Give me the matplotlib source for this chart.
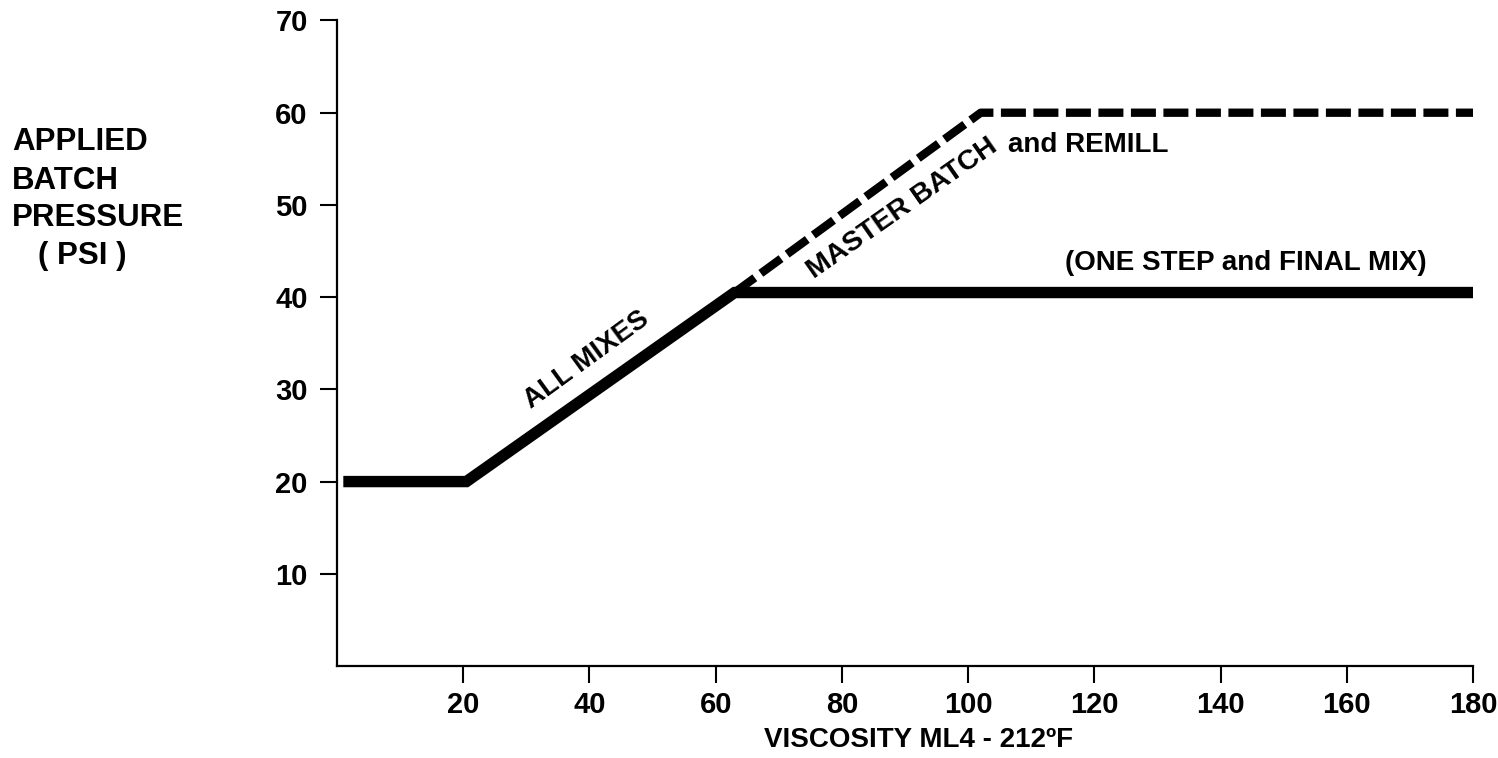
import matplotlib
matplotlib.use("Agg")
import matplotlib.pyplot as plt

# Viscosity (ML4 at 212 F) vs applied ram pressure
all_mixes_x = [1, 20.5, 63, 180]
all_mixes_y = [20, 20, 40.5, 40.5]
master_x = [63, 102, 180]
master_y = [40.5, 60, 60]

x_ticks = [20, 40, 60, 80, 100, 120, 140, 160, 180]
y_ticks = [10, 20, 30, 40, 50, 60, 70]

bold_font = ["Liberation Sans", "DejaVu Sans"]

fig = plt.figure(figsize=(14.98, 7.58), dpi=100)
ax = fig.add_axes([337 / 1498, 1 - 666 / 758, (1473 - 337) / 1498, (666 - 20.5) / 758])

ax.plot(all_mixes_x, all_mixes_y, color="black", lw=8.2,
        solid_capstyle="butt", solid_joinstyle="miter", zorder=3)
ax.plot(master_x, master_y, color="black", lw=6.0, dashes=(3.0, 0.9),
        dash_capstyle="butt", zorder=2)

ax.set_xlim(0, 180)
ax.set_ylim(0, 70)
ax.set_xticks(x_ticks)
ax.set_yticks(y_ticks)
ax.set_xticklabels([str(v) for v in x_ticks])
ax.set_yticklabels([str(v) for v in y_ticks])

for side in ("top", "right"):
    ax.spines[side].set_visible(False)
for side in ("left", "bottom"):
    ax.spines[side].set_linewidth(1.6)

ax.tick_params(axis="both", direction="out", length=12, width=1.5, color="black")
ax.tick_params(axis="x", pad=6)
ax.tick_params(axis="y", pad=9)
for lab in ax.get_xticklabels() + ax.get_yticklabels():
    lab.set_fontfamily(bold_font)
    lab.set_fontweight("bold")
    lab.set_fontsize(21)

ax.set_xlabel("VISCOSITY ML4 - 212ºF", fontfamily=bold_font, fontweight="bold",
              fontsize=20, labelpad=6)
ax.xaxis.label.set_x((919 - 337) / 1136)

# annotations along the curves
ax.text(39.6, 33.2, "ALL MIXES", rotation=36, rotation_mode="anchor",
        ha="center", va="center", fontfamily=bold_font, fontweight="bold", fontsize=20)
ax.text(89.5, 49.6, "MASTER BATCH", rotation=35, rotation_mode="anchor",
        ha="center", va="center", fontfamily=bold_font, fontweight="bold", fontsize=20.5)
ax.text(106.3, 56.5, "and REMILL", ha="left", va="center",
        fontfamily=bold_font, fontweight="bold", fontsize=20)
ax.text(144, 43.7, "(ONE STEP and FINAL MIX)", ha="center", va="center",
        fontfamily=bold_font, fontweight="bold", fontsize=20)

# y axis title as stacked words at the left edge
ylabel_lines = [("APPLIED", 12, 150), ("BATCH", 12, 189),
                ("PRESSURE", 12, 226), ("( PSI )", 38, 264)]
for txt, px, py in ylabel_lines:
    fig.text(px / 1498, 1 - py / 758, txt, ha="left", va="baseline",
             fontfamily=bold_font, fontweight="bold", fontsize=22.5)

fig.savefig("out.png", dpi=100)
